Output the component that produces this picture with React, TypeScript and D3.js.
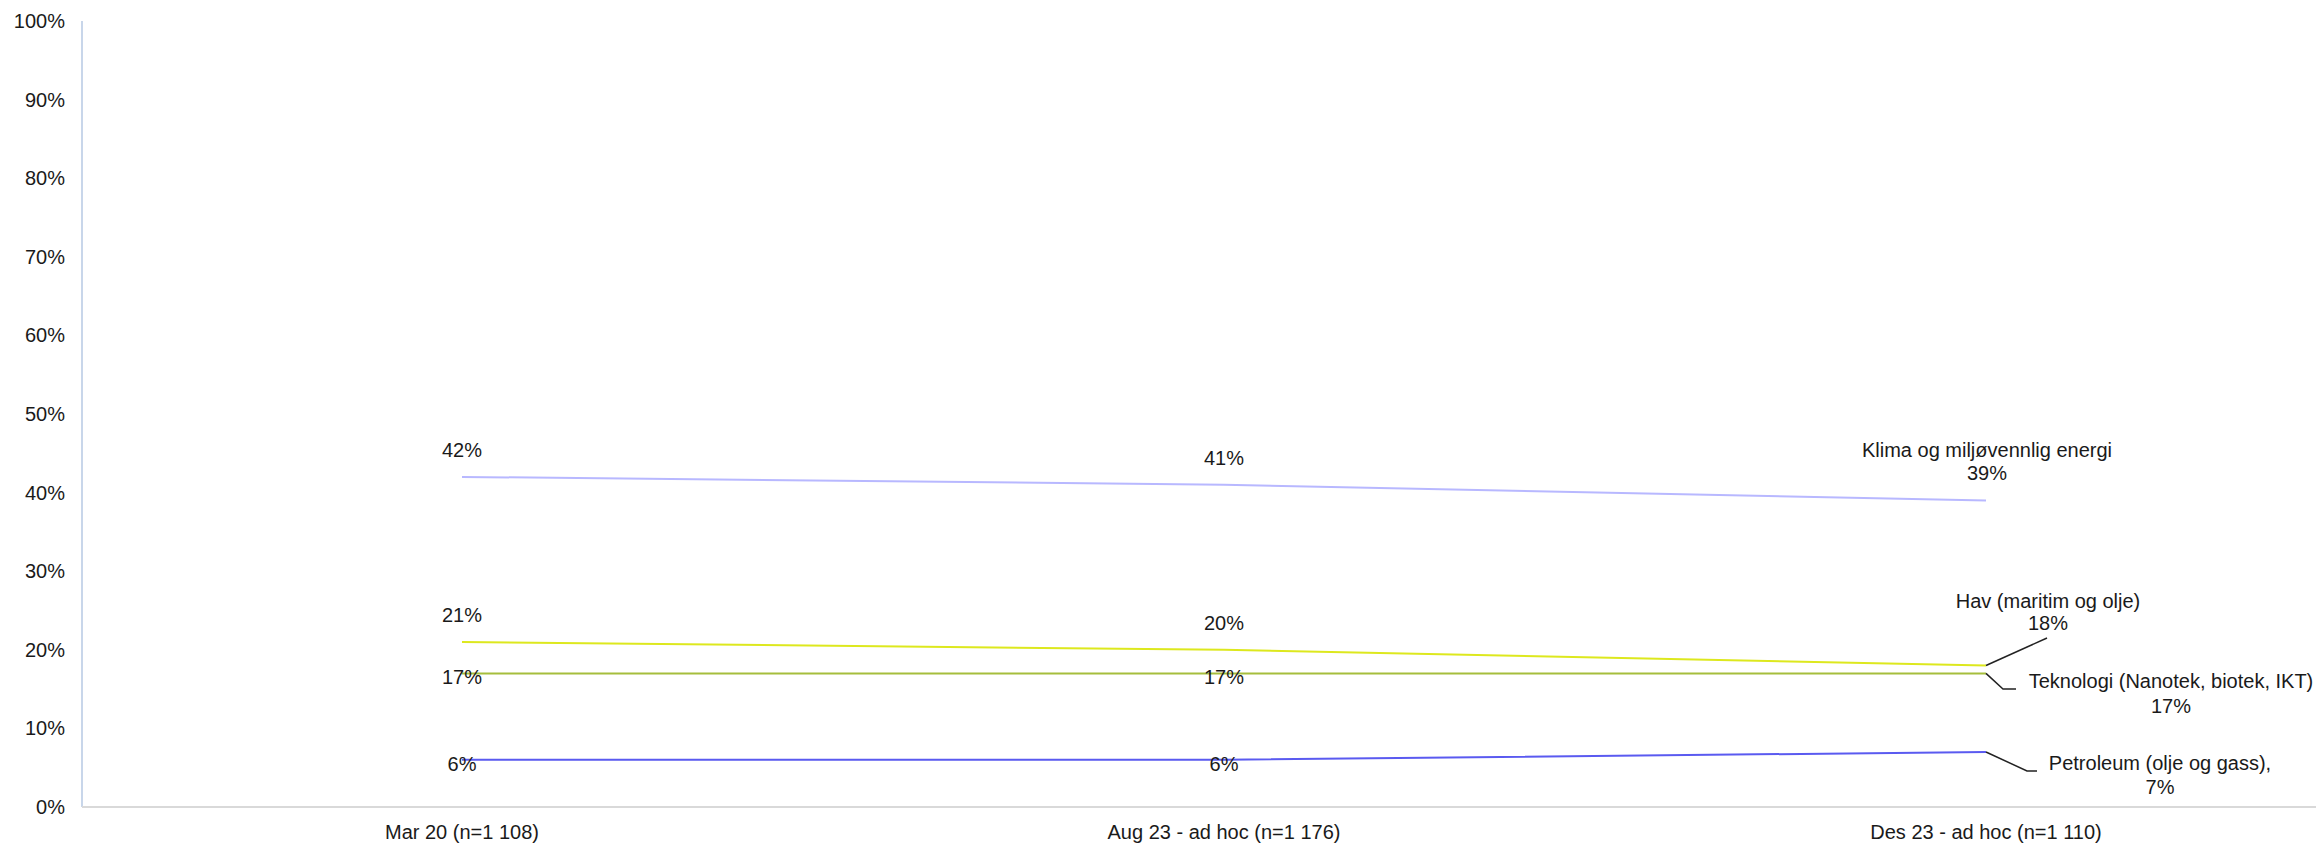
import React from "react";
import * as d3 from "d3";

const categories = ["Mar 20 (n=1 108)", "Aug 23 - ad hoc (n=1 176)", "Des 23 - ad hoc (n=1 110)"];
const seriesNames = [
  "Klima og miljøvennlig energi",
  "Hav (maritim og olje)",
  "Teknologi (Nanotek, biotek, IKT)",
  "Petroleum (olje og gass),",
];
const klima = [0.42, 0.41, 0.39];
const hav = [0.21, 0.2, 0.18];
const teknologi = [0.17, 0.17, 0.17];
const petroleum = [0.06, 0.06, 0.07];
const yTicks = [0, 0.1, 0.2, 0.3, 0.4, 0.5, 0.6, 0.7, 0.8, 0.9, 1.0];

const W = 2316;
const H = 844;
const FONT = "'Liberation Sans', Arial, sans-serif";

// styling / label layout (not data)
const styles = [
  { color: "#b8b8ff", labelDy: -27, end: { lines: [-50.5, -27.5], dx: 1, leader: null as null | number[][] } },
  { color: "#dde81e", labelDy: -27, end: { lines: [-64.5, -42.5], dx: 62, leader: [[0, 0], [61, -27.5]] } },
  { color: "#a6be3c", labelDy: 4, end: { lines: [7.6, 32.6], dx: 185, leader: [[0, 0], [17, 15.6], [30, 15.6]] } },
  { color: "#5a5af0", labelDy: 4, end: { lines: [11, 35], dx: 174, leader: [[0, 0], [41, 19], [51, 19]] } },
];

export default function App() {
  const allSeries = [klima, hav, teknologi, petroleum];
  const x = d3.scalePoint<string>().domain(categories).range([81, 2367]).padding(0.5);
  const y = d3.scaleLinear().domain([0, 1]).range([807, 21]);
  const fmt = d3.format(".0%");
  const line = d3
    .line<number>()
    .x((_, i) => x(categories[i]) as number)
    .y((d) => y(d));
  const lastIdx = categories.length - 1;

  return (
    <svg
      width={W}
      height={H}
      style={{ position: "absolute", left: 0, top: 0, background: "#fff" }}
      fontFamily={FONT}
      fontSize={20}
    >
      {/* y axis line */}
      <line x1={82} x2={82} y1={y(1)} y2={y(0)} stroke="#c8d6ea" strokeWidth={2} />
      {/* baseline */}
      <line x1={82} x2={W} y1={y(0)} y2={y(0)} stroke="#d9d9d9" strokeWidth={2} />
      {yTicks.map((t) => (
        <text key={t} x={65} y={y(t)} textAnchor="end" dominantBaseline="central" fill="#1a1a1a">
          {fmt(t)}
        </text>
      ))}
      {categories.map((c) => (
        <text key={c} x={x(c)} y={832} textAnchor="middle" dominantBaseline="central" fill="#1a1a1a">
          {c}
        </text>
      ))}
      {allSeries.map((s, si) => (
        <path key={si} d={line(s) || ""} fill="none" stroke={styles[si].color} strokeWidth={2} />
      ))}
      {allSeries.map((s, si) =>
        s.slice(0, lastIdx).map((v, i) => (
          <text
            key={`${si}-${i}`}
            x={x(categories[i])}
            y={y(v) + styles[si].labelDy}
            textAnchor="middle"
            dominantBaseline="central"
            fill="#1a1a1a"
          >
            {fmt(v)}
          </text>
        ))
      )}
      {allSeries.map((s, si) => {
        const px = x(categories[lastIdx]) as number;
        const py = y(s[lastIdx]);
        const st = styles[si].end;
        return (
          <g key={`end-${si}`}>
            {st.leader && (
              <polyline
                points={st.leader.map(([dx, dy]) => `${px + dx},${py + dy}`).join(" ")}
                fill="none"
                stroke="#222"
                strokeWidth={1.5}
              />
            )}
            <text x={px + st.dx} y={py + st.lines[0]} textAnchor="middle" dominantBaseline="central" fill="#1a1a1a">
              {seriesNames[si]}
            </text>
            <text x={px + st.dx} y={py + st.lines[1]} textAnchor="middle" dominantBaseline="central" fill="#1a1a1a">
              {fmt(s[lastIdx])}
            </text>
          </g>
        );
      })}
    </svg>
  );
}
